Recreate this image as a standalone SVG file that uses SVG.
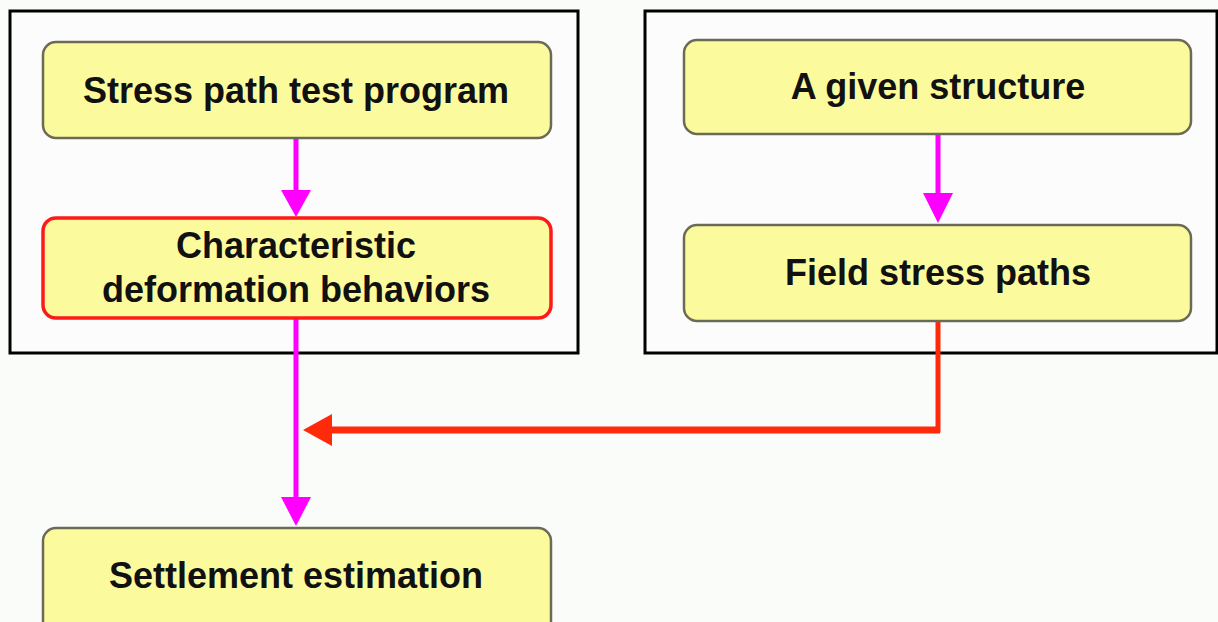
<svg xmlns="http://www.w3.org/2000/svg" width="1218" height="622" viewBox="0 0 1218 622">
<style>
.frame{fill:#fbfcfb;stroke:#000;stroke-width:3}
.box{fill:#fbfb9e;stroke:#6b6b55;stroke-width:2.5}
.boxr{fill:#fbfb9e;stroke:#ff1a1a;stroke-width:3.5}
.t{font-family:"Liberation Sans",Arial,sans-serif;font-size:36px;font-weight:bold;fill:#111;text-anchor:middle}
.mag{stroke:#ff00ff;stroke-width:5;fill:none}
.red{stroke:#ff2a0a;fill:none}
</style>
<rect width="1218" height="622" fill="#fafcfa"/>
<g id="frame-left">
<rect x="10" y="11" width="568" height="342" class="frame"/>
</g>
<g id="frame-right">
<rect x="645" y="11" width="572" height="342" class="frame"/>
</g>
<g id="connectors">
<line x1="296" y1="138" x2="296" y2="190" class="mag"/>
<path d="M281,190 L311,190 L296,217 Z" fill="#ff00ff"/>
<line x1="938" y1="134" x2="938" y2="194" class="mag"/>
<path d="M923,193 L953,193 L938,223 Z" fill="#ff00ff"/>
<line x1="296" y1="318" x2="296" y2="498" class="mag"/>
<path d="M281,497 L311,497 L296,526 Z" fill="#ff00ff"/>
<polyline points="938,321 938,430 330,430" class="red" stroke-width="5"/>
<line x1="330" y1="430" x2="940" y2="430" stroke="#ff2a0a" stroke-width="7"/>
<path d="M332,414 L332,446 L303,430 Z" fill="#ff2a0a"/>
</g>
<g id="n1">
<rect x="43" y="42" width="508" height="96" rx="13" class="box"/>
<text x="296" y="103" class="t">Stress path test program</text>
</g>
<g id="n2">
<rect x="43" y="218" width="508" height="100" rx="13" class="boxr"/>
<text x="296" y="258" class="t">Characteristic</text>
<text x="296" y="302" class="t">deformation behaviors</text>
</g>
<g id="n3">
<rect x="684" y="40" width="507" height="94" rx="13" class="box"/>
<text x="938" y="99" class="t">A given structure</text>
</g>
<g id="n4">
<rect x="684" y="225" width="507" height="96" rx="13" class="box"/>
<text x="938" y="285" class="t">Field stress paths</text>
</g>
<g id="n5">
<rect x="43" y="528" width="508" height="110" rx="13" class="box"/>
<text x="296" y="588" class="t">Settlement estimation</text>
</g>
</svg>
